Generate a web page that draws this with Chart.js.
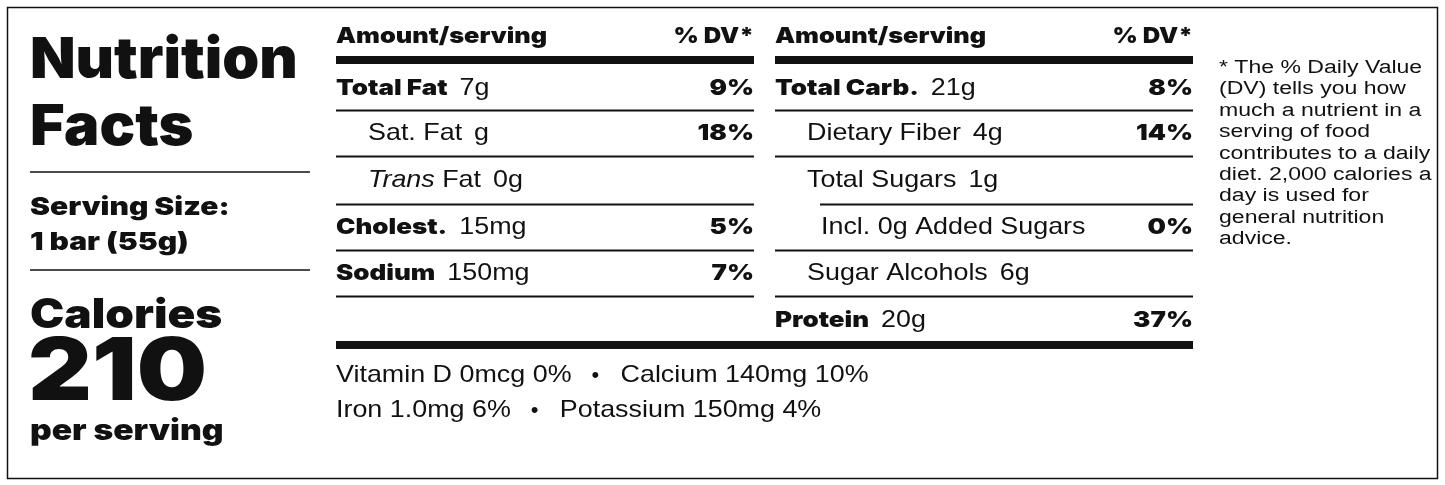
<!DOCTYPE html>
<html><head><meta charset="utf-8">
<script src="https://cdn.jsdelivr.net/npm/chart.js@4"></script>
<style>html,body{margin:0;background:#fff}#w{width:1445px;height:485px}</style>
</head><body><div id="w"><canvas id="c"></canvas></div>
<script>
const servingSize = "1 bar (55g)";
const calories = "210";
const leftNames = ["Total Fat", "Sat. Fat", "Trans Fat", "Cholest.", "Sodium"];
const leftAmounts = ["7g", "g", "0g", "15mg", "150mg"];
const leftDV = ["9%", "18%", "", "5%", "7%"];
const leftLevel = [0, 1, 1, 0, 0];
const rightNames = ["Total Carb.", "Dietary Fiber", "Total Sugars", "Incl. 0g Added Sugars", "Sugar Alcohols", "Protein"];
const rightAmounts = ["21g", "4g", "1g", "", "6g", "20g"];
const rightDV = ["8%", "14%", "", "0%", "", "37%"];
const rightLevel = [0, 1, 1, 2, 1, 0];
const vitLine1 = ["Vitamin D 0mcg 0%", "Calcium 140mg 10%"];
const vitLine2 = ["Iron 1.0mg 6%", "Potassium 150mg 4%"];
const footnote = ["* The % Daily Value", "(DV) tells you how", "much a nutrient in a", "serving of food", "contributes to a daily", "diet. 2,000 calories a", "day is used for", "general nutrition", "advice."];

const HB = "Inter, 'Liberation Sans', sans-serif";
const RG = "'Liberation Sans', Arial, sans-serif";
const BS = 1.18, RS = 1.12;

const labelPlugin = {
  id: 'label',
  afterDraw(chart) {
    const ctx = chart.ctx;
    ctx.save();
    ctx.fillStyle = '#111'; ctx.strokeStyle = '#111';
    ctx.lineWidth = 1.5; ctx.strokeRect(7.5, 7.5, 1430, 471);
    ctx.textBaseline = 'alphabetic';
    const txt = (s, x, y, font, align, st) => {
      st = st || 1;
      ctx.font = font; ctx.textAlign = align || 'left';
      ctx.save(); ctx.translate(x, y); ctx.scale(st, 1); ctx.fillText(s, 0, 0); ctx.restore();
      return ctx.measureText(s).width * st;
    };
    const hline = (x1, x2, y, w) => { ctx.fillRect(x1, y - w / 2, x2 - x1, w); };
    txt("Nutrition", 30, 78, "900 57px " + HB, 'left', 1.04);
    txt("Facts", 30, 145, "900 57px " + HB, 'left', 1.04);
    hline(30, 310, 172, 1.5);
    txt("Serving Size:", 30, 215, "900 25px " + HB, 'left', 1.2);
    txt(servingSize, 30, 250, "900 25px " + HB, 'left', 1.2);
    hline(30, 310, 270, 1.5);
    txt("Calories", 30, 328, "900 41px " + HB, 'left', 1.12);
    txt(calories, 28, 400, "900 86px " + HB, 'left', 1.15);
    txt("per serving", 30, 440, "900 29px " + HB, 'left', 1.16);
    const rowBase = [95, 140, 187, 234, 280, 327];
    const lineY = [110.5, 156.5, 204.5, 250.5, 296.5];
    function table(x0, x1, names, amts, dvs, lv, nLines, shortLine) {
      txt("Amount/serving", x0, 43, "900 22px " + HB, 'left', 1.15);
      txt("% DV*", x1, 43, "900 22px " + HB, 'right', 1.1);
      hline(x0, x1, 60, 8);
      names.forEach((n, i) => {
        const y = rowBase[i];
        const ind = [0, 32, 46][lv[i]];
        let w;
        if (lv[i] === 0) {
          w = txt(n, x0 + ind, y, "900 22px " + HB, 'left', BS);
        } else if (n === "Trans Fat") {
          w = txt("Trans", x0 + ind, y, "italic 24px " + RG, 'left', RS);
          w += txt(" Fat", x0 + ind + w, y, "24px " + RG, 'left', RS);
        } else {
          w = txt(n, x0 + ind, y, "24px " + RG, 'left', RS);
        }
        if (amts[i]) txt(amts[i], x0 + ind + w + 12, y, "24px " + RG, 'left', RS);
        if (dvs[i]) txt(dvs[i], x1, y, "900 22px " + HB, 'right', BS);
      });
      for (let i = 0; i < nLines; i++) hline(i === shortLine ? x0 + 45 : x0, x1, lineY[i], 2);
    }
    table(336, 754, leftNames, leftAmounts, leftDV, leftLevel, 5, -1);
    table(775, 1193, rightNames, rightAmounts, rightDV, rightLevel, 5, 2);
    hline(336, 1193, 345, 8);
    [[vitLine1, 382], [vitLine2, 417]].forEach(([arr, y]) => {
      let w = txt(arr[0], 336, y, "24px " + RG, 'left', RS);
      txt("•", 336 + w + 20, y, "22px " + RG);
      txt(arr[1], 336 + w + 49, y, "24px " + RG, 'left', RS);
    });
    footnote.forEach((s, i) => txt(s, 1219, 73 + i * 21.4, "18px " + RG, 'left', 1.28));
    ctx.restore();
  }
};

new Chart(document.getElementById('c'), {
  type: 'bar',
  data: { labels: leftNames, datasets: [{ data: [], backgroundColor: 'rgba(0,0,0,0)' }] },
  options: {
    responsive: true, maintainAspectRatio: false, animation: false,
    plugins: { legend: { display: false }, tooltip: { enabled: false } },
    scales: { x: { display: false }, y: { display: false } }
  },
  plugins: [labelPlugin]
});
</script></body></html>
